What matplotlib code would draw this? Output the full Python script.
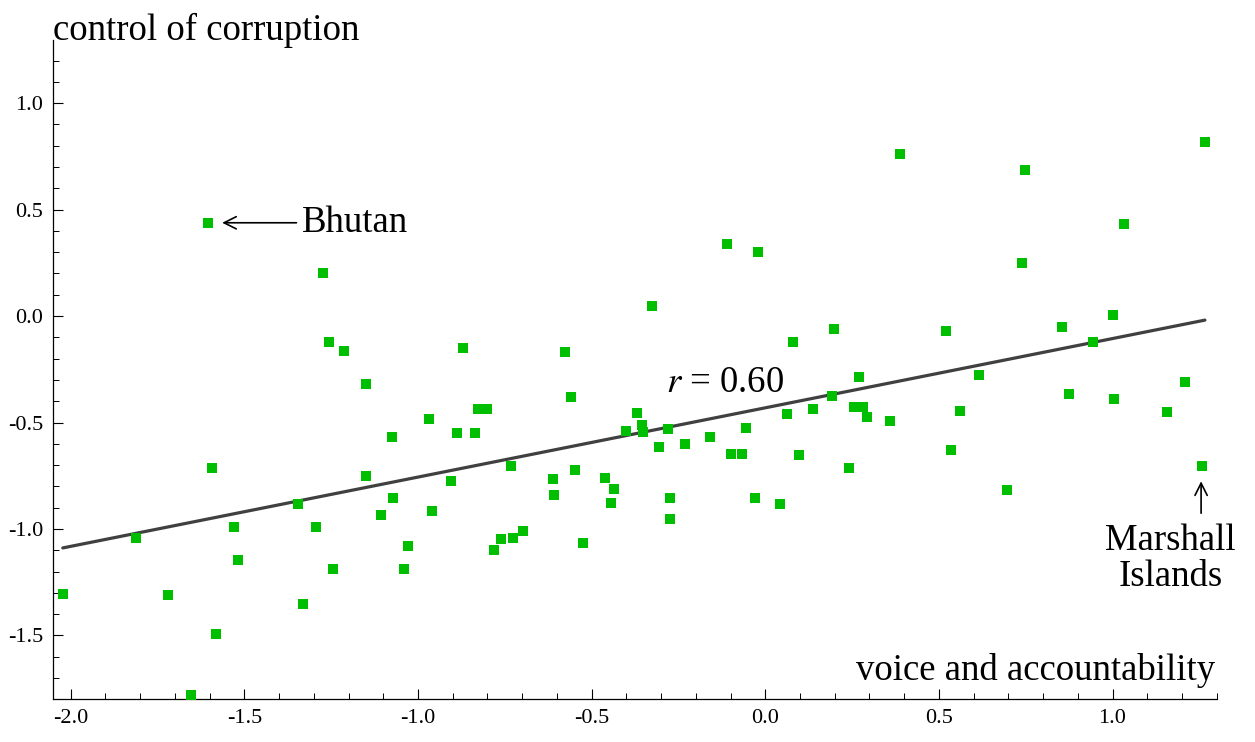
import matplotlib
matplotlib.use("Agg")
import matplotlib.pyplot as plt
from matplotlib.ticker import MultipleLocator
import numpy as np

plt.rcParams["font.family"] = ["Liberation Serif", "DejaVu Serif"]
plt.rcParams["mathtext.fontset"] = "stix"
plt.rcParams["axes.unicode_minus"] = False

# voice and accountability (x) vs control of corruption (y), one point per country
voice = [
    -1.604, -1.273, -1.256, -1.214, -1.149, -1.074, -1.593, -1.151, -1.347, -1.071,
    -1.106, -1.529, -1.294, -1.812, -1.029, -1.518, -1.246, -1.040, -2.023, -1.719,
    -1.332, -1.583, -1.655, -0.969, -0.887, -0.836, -0.827, -0.801, -0.870, -0.576,
    -0.560, -0.370, -0.354, -0.351, -0.400, -0.279, -0.307, -0.230, -0.158, -0.056,
    -0.100, -0.066, -0.325, -0.109, -0.020, 0.081, 0.063, 0.138, 0.098, -0.731,
    -0.904, -0.611, -0.547, -0.461, -0.437, -0.444, -0.608, -0.275, -0.275, -0.030,
    0.043, -0.959, -0.699, -0.762, -0.726, -0.780, -0.524, 0.387, 0.748, 1.266,
    1.034, 0.738, 0.199, 0.521, 0.854, 1.002, 0.945, 0.269, 0.615, 1.210,
    0.191, 0.876, 1.005, 0.256, 0.282, 0.293, 0.360, 0.560, 1.157, 0.242,
    0.536, 0.697, 1.259,
]
corruption = [
    0.438, 0.202, -0.124, -0.166, -0.319, -0.566, -0.712, -0.751, -0.884, -0.856,
    -0.936, -0.991, -0.991, -1.042, -1.080, -1.144, -1.188, -1.188, -1.305, -1.310,
    -1.352, -1.493, -1.779, -0.485, -0.548, -0.548, -0.437, -0.437, -0.150, -0.168,
    -0.382, -0.457, -0.512, -0.543, -0.540, -0.532, -0.615, -0.602, -0.566, -0.527,
    -0.646, -0.650, 0.045, 0.337, 0.300, -0.121, -0.460, -0.438, -0.654, -0.704,
    -0.775, -0.764, -0.723, -0.759, -0.811, -0.878, -0.842, -0.853, -0.952, -0.853,
    -0.884, -0.915, -1.011, -1.047, -1.044, -1.097, -1.066, 0.759, 0.685, 0.818,
    0.430, 0.250, -0.061, -0.072, -0.052, 0.006, -0.122, -0.285, -0.276, -0.311,
    -0.374, -0.365, -0.390, -0.426, -0.426, -0.473, -0.493, -0.446, -0.449, -0.712,
    -0.629, -0.818, -0.704,
]
r_label = "0.60"
bhutan = (-1.604, 0.438)
marshall = (1.259, -0.704)

x = np.array(voice)
y = np.array(corruption)
slope, intercept = np.polyfit(x, y, 1)
xfit = np.array([x.min(), x.max()])

fig = plt.figure(figsize=(12.55, 7.42), dpi=100)
ax = fig.add_axes([0.042, 0.0575, 0.9275, 0.8885])

ax.plot(xfit, slope * xfit + intercept, color="#404040", lw=2.3,
        solid_capstyle="round", zorder=2)
ax.plot(x, y, linestyle="none", marker="s", ms=7.2, color="#00BF00",
        markeredgewidth=0, zorder=3)

ax.set_xlim(-2.052, 1.30)
ax.set_ylim(-1.80, 1.296)
for side in ("top", "right"):
    ax.spines[side].set_visible(False)
for side in ("left", "bottom"):
    ax.spines[side].set_linewidth(0.9)

ax.xaxis.set_major_locator(MultipleLocator(0.5))
ax.xaxis.set_minor_locator(MultipleLocator(0.1))
ax.yaxis.set_major_locator(MultipleLocator(0.5))
ax.yaxis.set_minor_locator(MultipleLocator(0.1))
ax.xaxis.set_major_formatter(lambda v, p: f"{v:.1f}")
ax.yaxis.set_major_formatter(lambda v, p: f"{v:.1f}" if v < 1.25 else "")
ax.tick_params(which="major", direction="in", length=7.5, width=0.8,
               labelsize=16, pad=7)
ax.tick_params(which="minor", direction="in", length=4, width=0.7)

ax.text(0.0, 1.0, "control of corruption", transform=ax.transAxes,
        fontsize=26.5, ha="left", va="baseline")
fig.text(0.9685, 1 - 680 / 742, "voice and accountability",
         fontsize=26.5, ha="right", va="baseline")

ax.annotate("Bhutan", xy=(bhutan[0] + 0.04, bhutan[1]),
            xytext=(bhutan[0] + 0.27, bhutan[1]),
            fontsize=26.5, ha="left", va="center",
            arrowprops=dict(arrowstyle="->", color="black", lw=1.2,
                            shrinkA=2, shrinkB=0, mutation_scale=22))

# Marshall Islands: vertical arrow below the point, label underneath
ax.annotate("", xy=(marshall[0] - 0.004, marshall[1] - 0.072),
            xytext=(marshall[0] - 0.004, marshall[1] - 0.222),
            arrowprops=dict(arrowstyle="->", color="black", lw=1.2,
                            shrinkA=0, shrinkB=0, mutation_scale=22))
ax.text(marshall[0] - 0.092, marshall[1] - 0.272, "Marshall\nIslands",
        fontsize=26.5, ha="center", va="top", linespacing=1.05)

ax.text(-0.285, -0.355, rf"$r$ = {r_label}", fontsize=26.5, ha="left",
        va="baseline")

fig.savefig("out.png", dpi=100)
